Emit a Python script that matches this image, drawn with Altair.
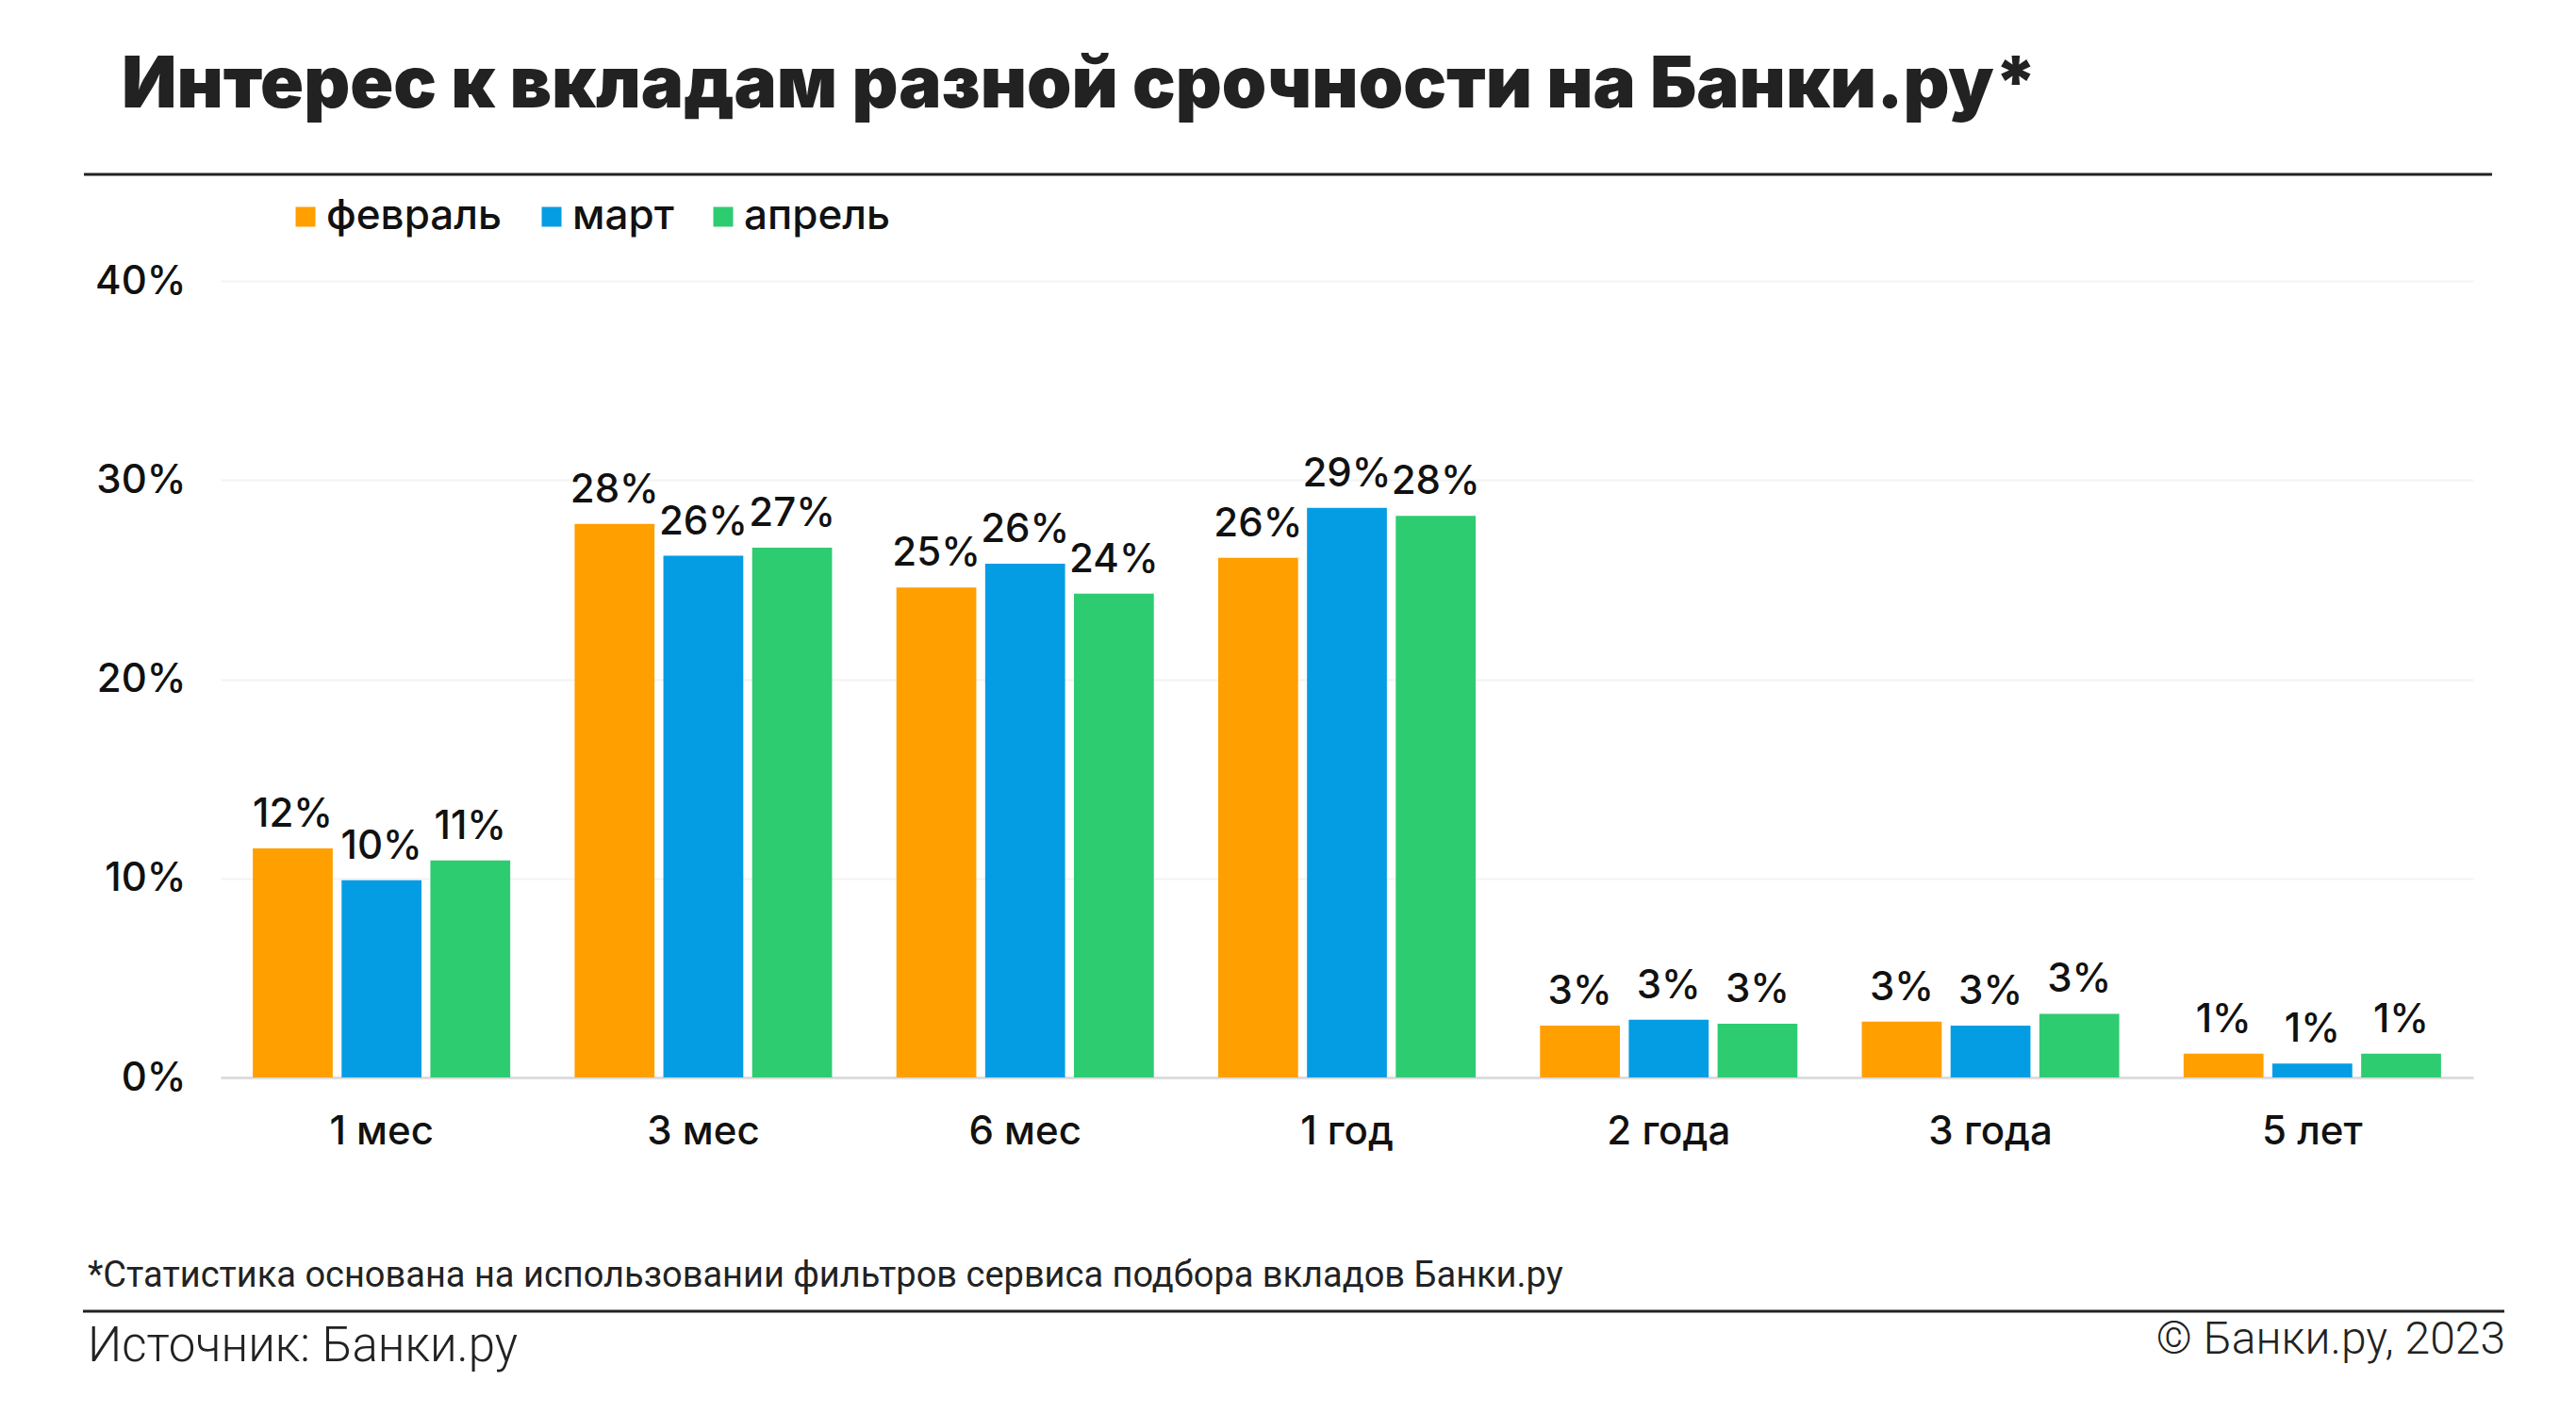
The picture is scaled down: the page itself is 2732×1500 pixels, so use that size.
import altair as alt
import pandas as pd

# ---- data ----
terms = ["1 мес", "3 мес", "6 мес", "1 год", "2 года", "3 года", "5 лет"]
months = ["февраль", "март", "апрель"]
feb = [11.5, 27.8, 24.6, 26.1, 2.6, 2.8, 1.2]
mar = [9.9, 26.2, 25.8, 28.6, 2.9, 2.6, 0.7]
apr = [10.9, 26.6, 24.3, 28.2, 2.7, 3.2, 1.2]
colors = ["#FF9F00", "#049DE4", "#2ECC71"]
y_ticks = [0, 10, 20, 30, 40]

title_text = "Интерес к вкладам разной срочности на Банки.ру*"
note_text = "*Статистика основана на использовании фильтров сервиса подбора вкладов Банки.ру"
source_text = "Источник: Банки.ру"
copyright_text = "© Банки.ру, 2023"

rows = []
for m, vals in zip(months, [feb, mar, apr]):
    for t, v in zip(terms, vals):
        rows.append({"term": t, "month": m, "value": v})
df = pd.DataFrame(rows)

W, H = 2389, 845
FONT = "Inter"
INK = "#111111"

base = alt.Chart(df).encode(
    x=alt.X(
        "term:N",
        sort=terms,
        scale=alt.Scale(paddingInner=0.2, paddingOuter=0.1),
        axis=alt.Axis(
            title=None, labelAngle=0, ticks=False, domain=True,
            domainColor="#dcdcdc", domainWidth=3, labelPadding=37,
            labelFontSize=42, labelFont=FONT, labelColor=INK, labelFontWeight=500,
        ),
    ),
    xOffset=alt.XOffset("month:N", sort=months,
                        scale=alt.Scale(paddingInner=0.1, paddingOuter=0)),
    y=alt.Y(
        "value:Q",
        scale=alt.Scale(domain=[0, 40]),
        axis=alt.Axis(
            title=None, values=y_ticks, labelExpr="datum.value + '%'",
            ticks=False, domain=False, grid=True, gridColor="#f3f3f3",
            gridWidth=2, labelPadding=37, labelFontSize=42, labelFont=FONT,
            labelColor=INK, labelFontWeight=500,
        ),
    ),
)

bars = base.mark_bar().encode(
    color=alt.Color(
        "month:N", sort=months,
        scale=alt.Scale(domain=months, range=colors),
        legend=alt.Legend(
            title=None, orient="none", legendX=68, legendY=-90,
            direction="horizontal", symbolType="square", symbolSize=441,
            symbolStrokeWidth=0, symbolOpacity=1, labelFontSize=44,
            labelFont=FONT, labelColor=INK, labelOffset=0, columnPadding=30,
            labelFontWeight=500, labelLimit=0,
        ),
    )
)

labels = base.mark_text(
    dy=-23, baseline="alphabetic", align="center", fontSize=42,
    font=FONT, fontWeight=500, color=INK,
).transform_calculate(
    label="format(datum.value, '.0f') + '%'"
).encode(text="label:N")


def note(s, x, y, **kw):
    return alt.Chart(pd.DataFrame({"t": [s]})).mark_text(**kw).encode(
        text="t:N", x=alt.value(x), y=alt.value(y)
    )


def hline(x1, x2, y):
    return alt.Chart(pd.DataFrame({"a": [0]})).mark_rule(
        color="#222222", strokeWidth=3
    ).encode(x=alt.value(x1), x2=alt.value(x2), y=alt.value(y))


title = note(title_text, -105, -184, align="left", baseline="alphabetic",
             fontSize=76, font=FONT, fontWeight=900, color="#222222")
rule_top = hline(-145, 2409, -113)
foot_note = note(note_text, -141, 1067, align="left", baseline="alphabetic",
                 fontSize=38, font="Roboto", fontWeight=400, color="#222222")
rule_bottom = hline(-146, 2422, 1093)
source = note(source_text, -141, 1146, align="left", baseline="alphabetic",
              fontSize=51, font="Roboto", fontWeight=300, color="#222222")
copy = note(copyright_text, 2423, 1138, align="right", baseline="alphabetic",
            fontSize=48, font="Roboto", fontWeight=300, color="#222222")

chart = alt.layer(
    bars, labels, title, rule_top, foot_note, rule_bottom, source, copy
).properties(
    width=W, height=H,
    autosize=alt.AutoSizeParams(type="none"),
    padding={"left": 226, "top": 290, "right": 100, "bottom": 340},
    background="white",
).configure_view(stroke=None)

chart.save("out.html", embed_options={"renderer": "svg", "actions": False})
